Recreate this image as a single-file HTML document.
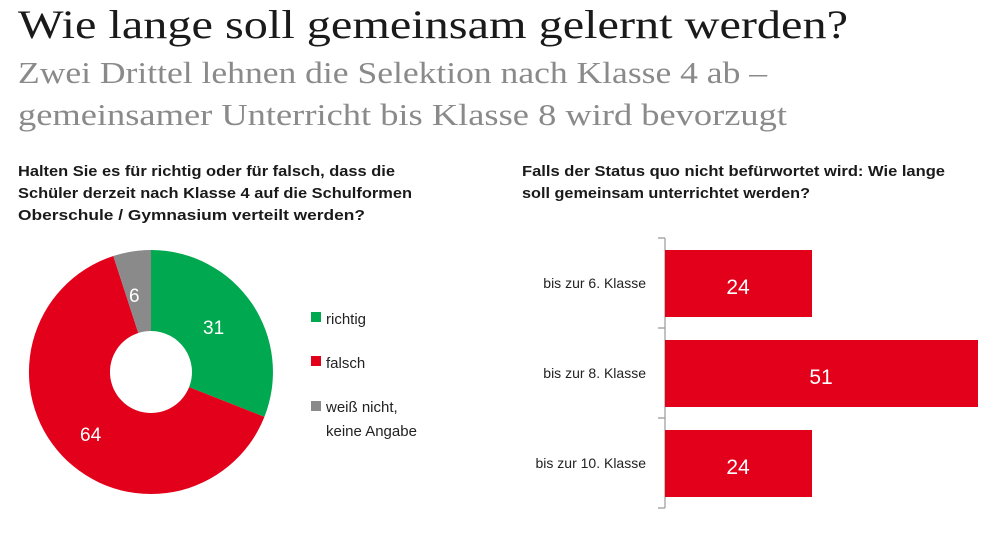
<!DOCTYPE html>
<html><head><meta charset="utf-8"><style>
body{margin:0;background:#fff;width:1000px;height:542px;overflow:hidden}
svg text{font-family:"Liberation Sans",sans-serif}
</style></head><body>
<svg width="1000" height="542" viewBox="0 0 1000 542">
<text x="18" y="38" style="font-family:'Liberation Serif',serif" font-size="40" fill="#1a1a1a" textLength="830" lengthAdjust="spacingAndGlyphs">Wie lange soll gemeinsam gelernt werden?</text>
<text x="18" y="83" style="font-family:'Liberation Serif',serif" font-size="31" fill="#8a8a8a" textLength="749" lengthAdjust="spacingAndGlyphs">Zwei Drittel lehnen die Selektion nach Klasse 4 ab –</text>
<text x="18" y="125" style="font-family:'Liberation Serif',serif" font-size="31" fill="#8a8a8a" textLength="769" lengthAdjust="spacingAndGlyphs">gemeinsamer Unterricht bis Klasse 8 wird bevorzugt</text>
<g font-size="15" font-weight="bold" fill="#1a1a1a">
<text x="18" y="176" textLength="377" lengthAdjust="spacingAndGlyphs">Halten Sie es für richtig oder für falsch, dass die</text>
<text x="18" y="198" textLength="394" lengthAdjust="spacingAndGlyphs">Schüler derzeit nach Klasse 4 auf die Schulformen</text>
<text x="18" y="220" textLength="347" lengthAdjust="spacingAndGlyphs">Oberschule / Gymnasium verteilt werden?</text>
<text x="522" y="176" textLength="423" lengthAdjust="spacingAndGlyphs">Falls der Status quo nicht befürwortet wird: Wie lange</text>
<text x="522" y="198" textLength="288" lengthAdjust="spacingAndGlyphs">soll gemeinsam unterrichtet werden?</text>
</g>
<path d="M151,250 A122,122 0 0 1 264.4,416.9 L189.1,387.1 A41,41 0 0 0 151,331 Z" fill="#00a84f"/>
<path d="M264.4,416.9 A122,122 0 1 1 113.3,256 L138.3,333 A41,41 0 1 0 189.1,387.1 Z" fill="#e2001a"/>
<path d="M113.3,256 A122,122 0 0 1 151,250 L151,331 A41,41 0 0 0 138.3,333 Z" fill="#8a8a8a"/>
<g fill="#fff" font-size="19">
<text x="203" y="334">31</text>
<text x="80" y="441">64</text>
<text x="129" y="302">6</text>
</g>
<rect x="311" y="312" width="10" height="10" fill="#00a84f"/>
<rect x="311" y="356" width="10" height="10" fill="#e2001a"/>
<rect x="311" y="401" width="10" height="10" fill="#8a8a8a"/>
<g font-size="15" fill="#222">
<text x="326" y="324">richtig</text>
<text x="326" y="368">falsch</text>
<text x="326" y="412">weiß nicht,</text>
<text x="326" y="436">keine Angabe</text>
</g>
<path d="M665,238 V508 M658,238 H665 M658,328 H665 M658,418 H665 M658,508 H665" stroke="#999" stroke-width="1.2" fill="none"/>
<rect x="665" y="250" width="147" height="67" fill="#e2001a"/>
<rect x="665" y="340" width="313" height="67" fill="#e2001a"/>
<rect x="665" y="430" width="147" height="67" fill="#e2001a"/>
<g fill="#fff" font-size="21" text-anchor="middle">
<text x="738" y="294">24</text>
<text x="821" y="384">51</text>
<text x="738" y="474">24</text>
</g>
<g fill="#222" font-size="14" text-anchor="end">
<text x="646" y="288">bis zur 6. Klasse</text>
<text x="646" y="378">bis zur 8. Klasse</text>
<text x="646" y="468">bis zur 10. Klasse</text>
</g>
</svg>
</body></html>
